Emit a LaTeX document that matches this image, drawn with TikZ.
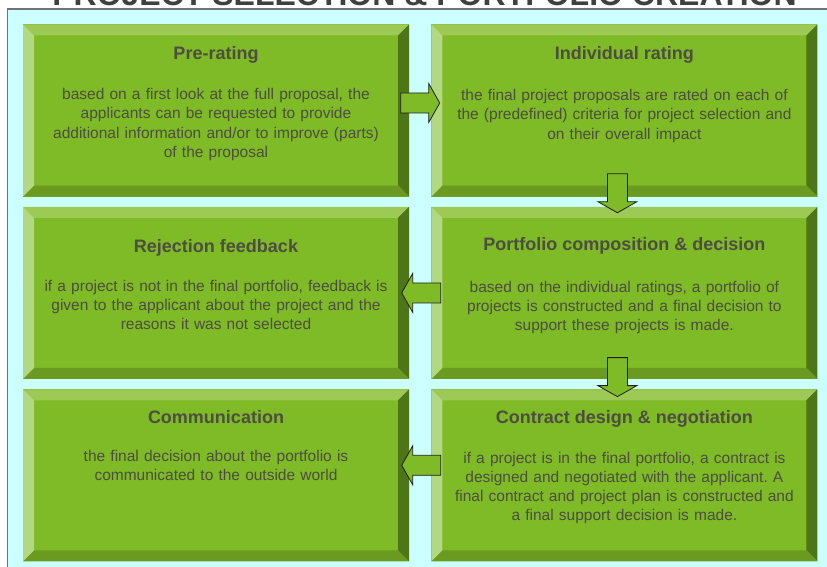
\documentclass[tikz,border=0pt]{standalone}
\usepackage{fontspec}
\setmainfont{Liberation Sans}
\usetikzlibrary{positioning,calc}

\definecolor{stage face}{HTML}{7FBA27}
\definecolor{bevel top}{HTML}{9DC955}
\definecolor{bevel left}{HTML}{B3D882}
\definecolor{bevel right}{HTML}{4E7517}
\definecolor{bevel bottom}{HTML}{6B9A20}
\definecolor{stage ink}{HTML}{4D4D40}
\definecolor{frame fill}{HTML}{CCFFFF}

\begin{document}
\begin{tikzpicture}[x=1pt,y=-1pt,
    stage/.style={minimum width=386pt,minimum height=172pt,inner sep=0pt,fill=stage face,
        path picture={
            \coordinate (nw) at (path picture bounding box.north west);
            \coordinate (ne) at (path picture bounding box.north east);
            \coordinate (se) at (path picture bounding box.south east);
            \coordinate (sw) at (path picture bounding box.south west);
            \fill[bevel top] (nw) -- (ne) -- ([shift={(-11pt,-11pt)}]ne) -- ([shift={(11pt,-11pt)}]nw) -- cycle;
            \fill[bevel right] (ne) -- (se) -- ([shift={(-11pt,11pt)}]se) -- ([shift={(-11pt,-11pt)}]ne) -- cycle;
            \fill[bevel bottom] (se) -- (sw) -- ([shift={(11pt,11pt)}]sw) -- ([shift={(-11pt,11pt)}]se) -- cycle;
            \fill[bevel left] (sw) -- (nw) -- ([shift={(11pt,-11pt)}]nw) -- ([shift={(11pt,11pt)}]sw) -- cycle;
        }},
    stage head/.style={anchor=base,inner sep=0pt,text=stage ink,font=\fontsize{18}{22}\selectfont\bfseries},
    stage text/.style={anchor=base,inner sep=0pt,text=stage ink,text width=380pt,align=center,
        font=\fontsize{15.5}{19.2}\selectfont\frenchspacing},
    arrow line/.style={fill=stage face,draw=black!60!stage ink,line width=0.8pt,line join=miter},
    pics/block arrow/.style={code={
        \draw[arrow line] (-19.5pt,-10pt) -- (8.5pt,-10pt) -- (8.5pt,-19.5pt) -- (19.5pt,0pt)
            -- (8.5pt,19.5pt) -- (8.5pt,10pt) -- (-19.5pt,10pt) -- cycle;}},
    title/.style={anchor=base,inner sep=0pt,text=black!75,font=\fontsize{32}{36}\selectfont\bfseries}]

    \useasboundingbox (0,0) rectangle (827,567);
    \clip (0,0) rectangle (827,567);

    \draw[fill=frame fill,draw=black!55,line width=1.5pt] (7.5,9) rectangle (850,590);
    \node[title] (title) at (424.5,6) {PROJECT SELECTION \& PORTFOLIO CREATION};

    \node[stage] (pre) at (216,110.5) {};
    \node[stage,right=22pt of pre] (indiv) {};
    \node[stage,below=10pt of pre] (reject) {};
    \node[stage,below=10pt of indiv] (portfolio) {};
    \node[stage,below=10pt of reject] (comm) {};
    \node[stage,below=10pt of portfolio] (contract) {};

    \node[stage head] (pre head) at ([yshift=-35.5pt]pre.north) {Pre-rating};
    \node[stage text] (pre text) at ([yshift=-40pt]pre head.base)
        {based on a first look at the full proposal, the\\applicants can be requested to provide\\additional information and/or to improve (parts)\\of the proposal};

    \node[stage head] (indiv head) at ([yshift=-35.5pt]indiv.north) {Individual rating};
    \node[stage text] (indiv text) at ([yshift=-41pt]indiv head.base)
        {the final project proposals are rated on each of\\the (predefined) criteria for project selection and\\on their overall impact};

    \node[stage head] (reject head) at ([yshift=-45.5pt]reject.north) {Rejection feedback};
    \node[stage text] (reject text) at ([yshift=-39pt]reject head.base)
        {if a project is not in the final portfolio, feedback is\\given to the applicant about the project and the\\reasons it was not selected};

    \node[stage head] (portfolio head) at ([yshift=-43.5pt]portfolio.north) {Portfolio composition \& decision};
    \node[stage text] (portfolio text) at ([yshift=-42pt]portfolio head.base)
        {based on the individual ratings, a portfolio of\\projects is constructed and a final decision to\\support these projects is made.};

    \node[stage head] (comm head) at ([yshift=-34.5pt]comm.north) {Communication};
    \node[stage text] (comm text) at ([yshift=-38pt]comm head.base)
        {the final decision about the portfolio is\\communicated to the outside world};

    \node[stage head] (contract head) at ([yshift=-34.5pt]contract.north) {Contract design \& negotiation};
    \node[stage text] (contract text) at ([yshift=-39.5pt]contract head.base)
        {if a project is in the final portfolio, a contract is\\designed and negotiated with the applicant. A\\final contract and project plan is constructed and\\a final support decision is made.};

    \pic at ([yshift=7.5pt]$(pre.east)!.5!(indiv.west)$) {block arrow};
    \pic[rotate=-90] at ([xshift=-7pt,yshift=8.5pt]$(indiv.south)!.5!(portfolio.north)$) {block arrow};
    \pic[rotate=180] at ([xshift=1pt]$(portfolio.west)!.5!(reject.east)$) {block arrow};
    \pic[rotate=-90] at ([xshift=-7pt,yshift=7pt]$(portfolio.south)!.5!(contract.north)$) {block arrow};
    \pic[rotate=180] at ([xshift=1pt,yshift=10pt]$(contract.west)!.5!(comm.east)$) {block arrow};
\end{tikzpicture}
\end{document}
